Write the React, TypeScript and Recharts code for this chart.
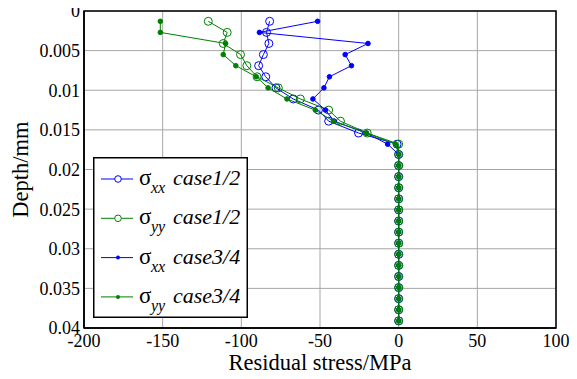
import React from "react";
import {
  ScatterChart,
  Scatter,
  XAxis,
  YAxis,
  CartesianGrid,
  ReferenceArea,
  Legend,
} from "recharts";

const FONT = "Liberation Serif, Times New Roman, serif";
const BLUE = "#0000FF";
const GREEN = "#008000";

// depth of each sample (mm)
const depth = [
  0.0013, 0.0027, 0.0041, 0.0055, 0.0069, 0.0083, 0.0097, 0.0111, 0.0125, 0.0139,
  0.0154, 0.0168, 0.0181, 0.0195, 0.0209, 0.0223, 0.0237, 0.0251, 0.0265, 0.0279,
  0.0293, 0.0307, 0.0321, 0.0335, 0.0349, 0.0363, 0.0377, 0.0391,
];

// residual stress (MPa)
const sxxCase12 = [
  -82, -84, -82.5, -86, -89, -84.5, -78, -67, -51, -44.5, -25.5, -1,
  0, 0, 0, 0, 0, 0, 0, 0, 0, 0, 0, 0, 0, 0, 0, 0,
];
const syyCase12 = [
  -121, -109, -111.5, -100.5, -96.5, -90, -76.5, -62.5, -44.5, -37, -20, 0,
  0, 0, 0, 0, 0, 0, 0, 0, 0, 0, 0, 0, 0, 0, 0, 0,
];
const sxxCase34 = [
  -51.5, -88.5, -19.5, -34, -30, -44, -47.5, -54.5, -46.5, -41, -20.5, -7,
  0, 0, 0, 0, 0, 0, 0, 0, 0, 0, 0, 0, 0, 0, 0, 0,
];
const syyCase34 = [
  -151.5, -151.5, -110, -111.5, -103.5, -90.5, -83, -71, -53, -41.5, -20.5, -2,
  0, 0, 0, 0, 0, 0, 0, 0, 0, 0, 0, 0, 0, 0, 0, 0,
];

const xTicks = [-200, -150, -100, -50, 0, 50, 100];
const yTicks = [0, 0.005, 0.01, 0.015, 0.02, 0.025, 0.03, 0.035, 0.04];

const legendItems = [
  { sub: "xx", name: "case1/2", color: BLUE, open: true },
  { sub: "yy", name: "case1/2", color: GREEN, open: true },
  { sub: "xx", name: "case3/4", color: BLUE, open: false },
  { sub: "yy", name: "case3/4", color: GREEN, open: false },
];

const toPoints = (values: number[]) => depth.map((d, i) => ({ x: values[i], y: d }));

const openCircle = (color: string) => (props: any) => (
  <circle cx={props.cx} cy={props.cy} r={4} fill="none" stroke={color} strokeWidth={1} />
);
const dot = (color: string) => (props: any) => (
  <circle cx={props.cx} cy={props.cy} r={2.3} fill={color} stroke={color} />
);

const LegendBox = () => (
  <svg width={155} height={161} style={{ display: "block" }}>
    <rect x={0.75} y={0.75} width={153.5} height={159.5} fill="#fff" stroke="#000" strokeWidth={1.5} />
    {legendItems.map((item, i) => {
      const cy = 22 + i * 39.3;
      return (
        <g key={i}>
          <line x1={8} x2={40} y1={cy} y2={cy} stroke={item.color} strokeWidth={1} />
          {item.open ? (
            <circle cx={25} cy={cy} r={3.3} fill="#fff" stroke={item.color} strokeWidth={1} />
          ) : (
            <circle cx={25} cy={cy} r={2} fill={item.color} />
          )}
          <text x={46} y={cy + 6} fontFamily={FONT} fontSize={23} fill="#000">
            σ
          </text>
          <text x={58} y={cy + 14} fontFamily={FONT} fontSize={16} fontStyle="italic" fill="#000">
            {item.sub}
          </text>
          <text x={80} y={cy + 6} fontFamily={FONT} fontSize={22} fontStyle="italic" fill="#000">
            {item.name}
          </text>
        </g>
      );
    })}
  </svg>
);

export default function App() {
  const tickStyle = { fontFamily: FONT, fontSize: 18, fill: "#000" };
  return (
    <div style={{ position: "relative", width: 577, height: 379, margin: "-8px 0 0 -8px" }}>
      <ScatterChart width={577} height={379} margin={{ top: 11, right: 21, bottom: 0, left: 0 }}>
        <CartesianGrid stroke="#a6a6a6" strokeWidth={1} />
        <XAxis
          type="number"
          dataKey="x"
          domain={[-200, 100]}
          ticks={xTicks}
          interval={0}
          height={51}
          tickSize={0}
          tickMargin={6}
          tick={tickStyle}
          axisLine={{ stroke: "#000", strokeWidth: 1.5 }}
          allowDataOverflow
          label={{
            content: (p: any) => {
              const vb = p.viewBox;
              return (
                <text
                  x={vb.x + vb.width / 2}
                  y={vb.y + 42}
                  textAnchor="middle"
                  fontFamily={FONT}
                  fontSize={22.5}
                  fill="#000"
                >
                  Residual stress/MPa
                </text>
              );
            },
          }}
        />
        <YAxis
          type="number"
          dataKey="y"
          domain={[0, 0.04]}
          reversed
          ticks={yTicks}
          interval={0}
          width={84}
          tickSize={0}
          tickMargin={4}
          tick={tickStyle}
          axisLine={{ stroke: "#000", strokeWidth: 1.5 }}
          allowDataOverflow
          label={{
            content: (p: any) => {
              const vb = p.viewBox;
              const cx = 28;
              const cy = vb.y + vb.height / 2;
              return (
                <text
                  x={cx}
                  y={cy}
                  transform={`rotate(-90 ${cx} ${cy})`}
                  textAnchor="middle"
                  fontFamily={FONT}
                  fontSize={22.5}
                  fill="#000"
                >
                  Depth/mm
                </text>
              );
            },
          }}
        />
        <ReferenceArea x1={-200} x2={100} y1={0} y2={0.04} fill="none" stroke="#000" strokeWidth={1.5} />
        <Scatter
          data={toPoints(sxxCase12)}
          line={{ stroke: BLUE, strokeWidth: 1 }}
          shape={openCircle(BLUE)}
          isAnimationActive={false}
        />
        <Scatter
          data={toPoints(syyCase12)}
          line={{ stroke: GREEN, strokeWidth: 1 }}
          shape={openCircle(GREEN)}
          isAnimationActive={false}
        />
        <Scatter
          data={toPoints(sxxCase34)}
          line={{ stroke: BLUE, strokeWidth: 1 }}
          shape={dot(BLUE)}
          isAnimationActive={false}
        />
        <Scatter
          data={toPoints(syyCase34)}
          line={{ stroke: GREEN, strokeWidth: 1 }}
          shape={dot(GREEN)}
          isAnimationActive={false}
        />
        <Legend
          layout="horizontal"
          verticalAlign="middle"
          align="center"
          content={() => <LegendBox />}
          wrapperStyle={{ left: 93, top: 157, width: 155, height: 161 }}
        />
      </ScatterChart>
    </div>
  );
}
